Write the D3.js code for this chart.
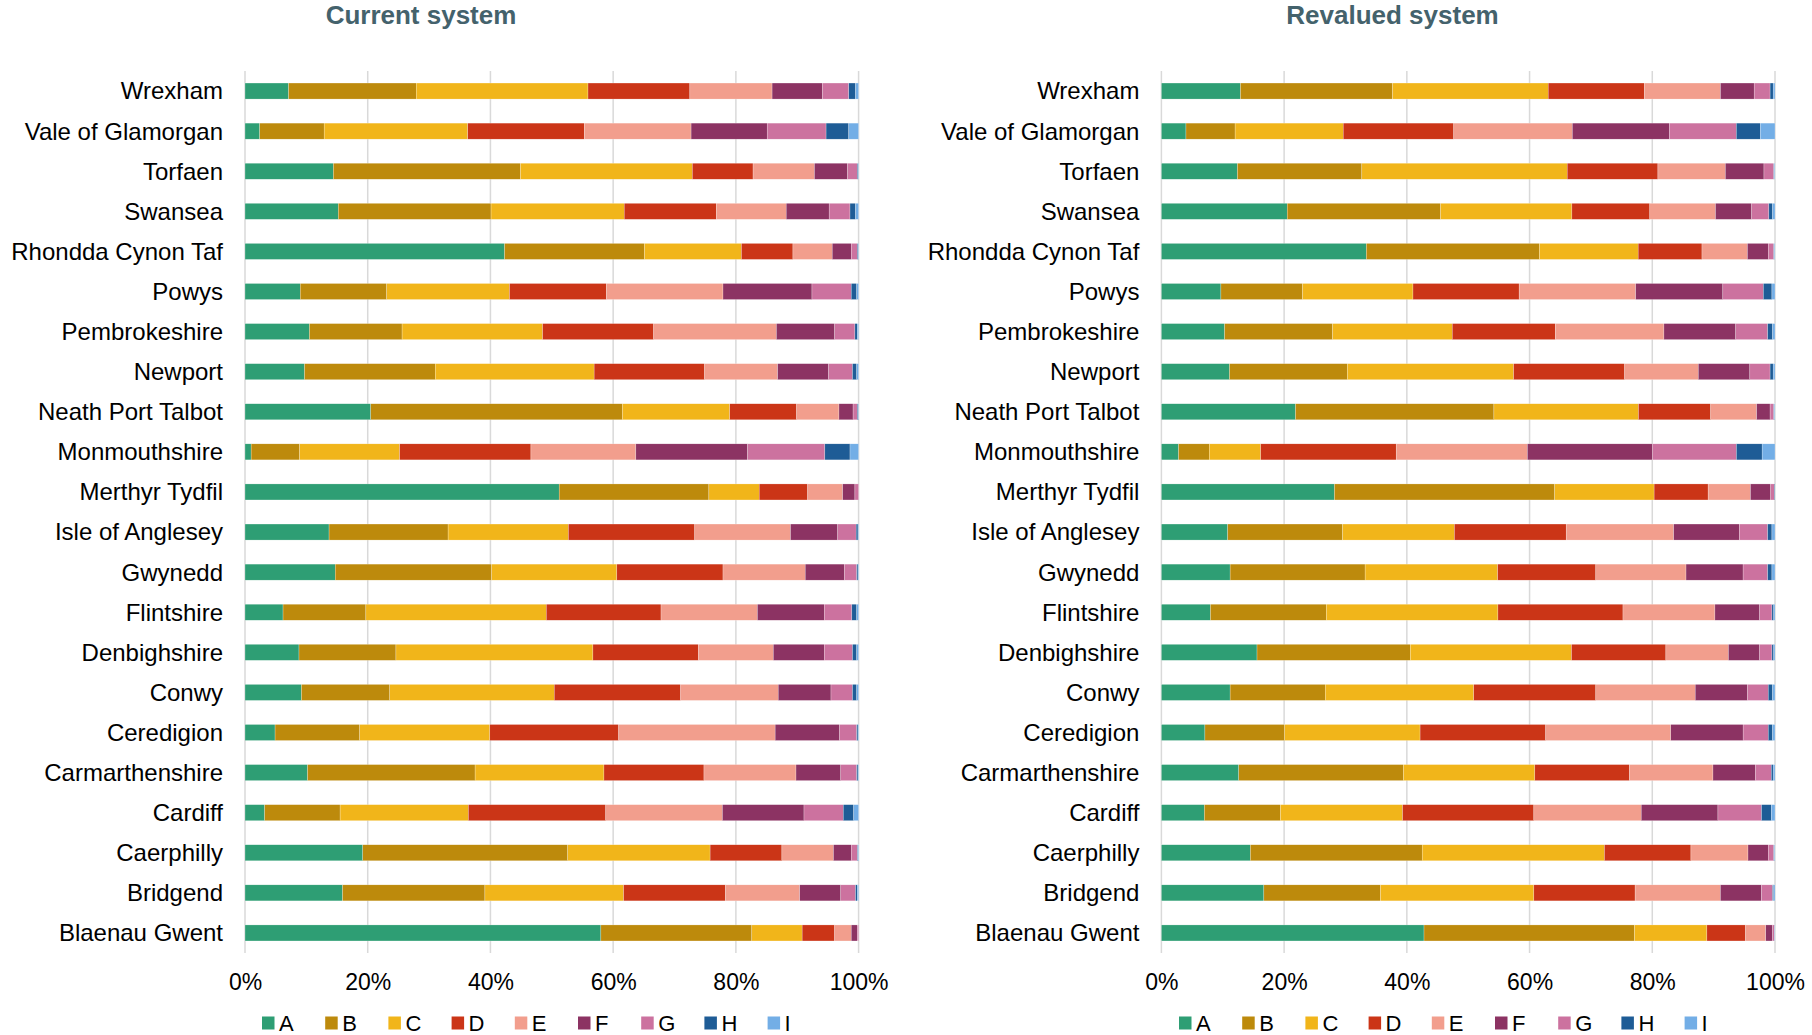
<!DOCTYPE html>
<meta charset="utf-8">
<head>
  <title>Council tax bands by council</title>
</head>

<style>
body {
  margin: 0;
  font-family: "Liberation Sans", Arial, sans-serif;
  background: #fff;
}
</style>

<body>
  <div id="content"></div>

  <script src="https://cdn.jsdelivr.net/npm/d3@7"></script>

  <script>
// Councils, top to bottom
var councils = ['Wrexham', 'Vale of Glamorgan', 'Torfaen', 'Swansea', 'Rhondda Cynon Taf',
  'Powys', 'Pembrokeshire', 'Newport', 'Neath Port Talbot', 'Monmouthshire', 'Merthyr Tydfil',
  'Isle of Anglesey', 'Gwynedd', 'Flintshire', 'Denbighshire', 'Conwy', 'Ceredigion',
  'Carmarthenshire', 'Cardiff', 'Caerphilly', 'Bridgend', 'Blaenau Gwent'];

var bands = ['A', 'B', 'C', 'D', 'E', 'F', 'G', 'H', 'I'];
var bandColours = ['#2e9e74', '#bd8a0c', '#f1b51a', '#cb3517', '#f29e8d', '#8c3363', '#cc729f', '#1e5c96', '#73aee6'];

var tickValues = [0, 0.2, 0.4, 0.6, 0.8, 1];

// share of dwellings per band (%), one row per council, bands A..I
var currentShares = [
  [7.1, 20.8, 28.0, 16.6, 13.4, 8.2, 4.3, 1.1, 0.5],
  [2.4, 10.5, 23.4, 19.0, 17.4, 12.4, 9.6, 3.7, 1.6],
  [14.4, 30.5, 28.0, 9.9, 10.0, 5.4, 1.6, 0.15, 0.05],
  [15.2, 24.9, 21.7, 15.0, 11.4, 7.0, 3.4, 0.9, 0.5],
  [42.3, 22.8, 15.8, 8.4, 6.4, 3.1, 1.0, 0.15, 0.05],
  [9.0, 14.1, 20.0, 15.8, 19.0, 14.5, 6.4, 0.9, 0.3],
  [10.5, 15.1, 22.9, 18.1, 20.0, 9.5, 3.3, 0.4, 0.2],
  [9.7, 21.3, 25.9, 18.0, 11.9, 8.3, 3.9, 0.7, 0.3],
  [20.5, 41.0, 17.5, 10.9, 6.9, 2.3, 0.7, 0.15, 0.05],
  [1.0, 7.9, 16.3, 21.4, 17.1, 18.2, 12.6, 4.1, 1.4],
  [51.2, 24.4, 8.2, 7.9, 5.7, 2.0, 0.6, 0, 0],
  [13.7, 19.4, 19.6, 20.6, 15.6, 7.7, 3.0, 0.3, 0.1],
  [14.7, 25.5, 20.4, 17.3, 13.4, 6.4, 2.0, 0.2, 0.1],
  [6.2, 13.5, 29.4, 18.7, 15.7, 10.9, 4.5, 0.8, 0.3],
  [8.8, 15.8, 32.1, 17.2, 12.2, 8.3, 4.6, 0.7, 0.3],
  [9.2, 14.4, 26.8, 20.6, 15.9, 8.6, 3.5, 0.7, 0.3],
  [4.9, 13.8, 21.2, 21.0, 25.5, 10.5, 2.8, 0.2, 0.1],
  [10.2, 27.3, 21.0, 16.3, 15.0, 7.3, 2.6, 0.2, 0.1],
  [3.2, 12.3, 20.9, 22.4, 19.0, 13.3, 6.4, 1.7, 0.8],
  [19.2, 33.4, 23.2, 11.7, 8.4, 2.9, 1.0, 0.1, 0.1],
  [15.9, 23.2, 22.6, 16.6, 12.1, 6.7, 2.4, 0.3, 0.2],
  [58.0, 24.6, 8.2, 5.3, 2.7, 1.0, 0.2, 0, 0]
];

var revaluedShares = [
  [12.9, 24.8, 25.4, 15.7, 12.4, 5.5, 2.6, 0.5, 0.3],
  [4.0, 8.0, 17.6, 18.0, 19.3, 15.8, 10.9, 3.9, 2.4],
  [12.4, 20.3, 33.5, 14.8, 11.0, 6.3, 1.6, 0.1, 0.1],
  [20.5, 25.0, 21.4, 12.7, 10.7, 5.9, 2.8, 0.6, 0.4],
  [33.4, 28.2, 16.1, 10.4, 7.4, 3.4, 0.9, 0.1, 0.1],
  [9.7, 13.3, 18.0, 17.3, 19.0, 14.2, 6.6, 1.4, 0.5],
  [10.3, 17.6, 19.5, 16.8, 17.7, 11.7, 5.2, 0.8, 0.4],
  [11.1, 19.2, 27.1, 18.1, 12.0, 8.4, 3.3, 0.5, 0.3],
  [21.9, 32.4, 23.6, 11.8, 7.5, 2.2, 0.6, 0.1, 0.1],
  [2.8, 5.0, 8.4, 22.1, 21.4, 20.4, 13.7, 4.2, 2.1],
  [28.2, 35.9, 16.2, 8.8, 6.9, 3.3, 0.6, 0.1, 0],
  [10.8, 18.7, 18.2, 18.2, 17.5, 10.7, 4.6, 0.7, 0.5],
  [11.2, 22.0, 21.6, 16.0, 14.7, 9.3, 4.0, 0.7, 0.5],
  [8.0, 18.9, 28.0, 20.4, 15.0, 7.3, 2.0, 0.3, 0.2],
  [15.6, 25.0, 26.3, 15.4, 10.2, 5.1, 2.0, 0.3, 0.2],
  [11.2, 15.5, 24.2, 19.9, 16.2, 8.5, 3.4, 0.7, 0.4],
  [7.1, 13.0, 22.1, 20.5, 20.4, 11.8, 4.1, 0.7, 0.4],
  [12.6, 26.8, 21.4, 15.4, 13.6, 6.9, 2.6, 0.3, 0.3],
  [7.0, 12.4, 19.9, 21.4, 17.5, 12.5, 7.1, 1.6, 0.6],
  [14.5, 28.0, 29.7, 14.1, 9.3, 3.3, 0.9, 0.1, 0.1],
  [16.7, 19.0, 25.0, 16.5, 13.9, 6.7, 1.8, 0.2, 0.2],
  [42.8, 34.3, 11.8, 6.3, 3.3, 1.1, 0.3, 0.05, 0.05]
];

var width = 1812, height = 1035;

var svg = d3.select('#content').append('svg')
  .attr('width', width)
  .attr('height', height)
  .style('display', 'block');

var colour = d3.scaleOrdinal().domain(bands).range(bandColours);

var y = d3.scaleBand()
  .domain(councils)
  .range([71, 953])
  .paddingInner(0.6)
  .paddingOuter(0.3);

function drawPanel(title, shares, x0, x1, titleX, legendX) {
  var rows = councils.map(function(c, i) {
    var r = {council: c};
    bands.forEach(function(b, j) { r[b] = shares[i][j]; });
    return r;
  });

  var series = d3.stack().keys(bands).offset(d3.stackOffsetExpand)(rows);

  var x = d3.scaleLinear().domain([0, 1]).range([x0, x1]);

  var g = svg.append('g');

  // title
  g.append('text')
    .attr('x', titleX)
    .attr('y', 24)
    .attr('text-anchor', 'middle')
    .style('font-size', '26px')
    .style('font-weight', 'bold')
    .style('fill', '#44626c')
    .text(title);

  // gridlines
  g.append('g')
    .selectAll('line')
    .data(tickValues)
    .join('line')
    .attr('x1', function(d) { return x(d); })
    .attr('x2', function(d) { return x(d); })
    .attr('y1', 71)
    .attr('y2', 953)
    .attr('stroke', '#d9d9d9')
    .attr('stroke-width', 1.5);

  // bars
  g.append('g')
    .selectAll('g')
    .data(series)
    .join('g')
    .attr('fill', function(d) { return colour(d.key); })
    .selectAll('rect')
    .data(function(d) { return d; })
    .join('rect')
    .attr('x', function(d) { return x(d[0]); })
    .attr('y', function(d) { return y(d.data.council); })
    .attr('width', function(d) { return Math.max(0, x(d[1]) - x(d[0])); })
    .attr('height', y.bandwidth())
    .attr('stroke', '#fff')
    .attr('stroke-width', 0.4)
    .attr('stroke-opacity', 0.6);

  // category labels
  g.append('g')
    .selectAll('text')
    .data(councils)
    .join('text')
    .attr('x', x0 - 22)
    .attr('y', function(d) { return y(d) + y.bandwidth() / 2; })
    .attr('dy', '0.35em')
    .attr('text-anchor', 'end')
    .style('font-size', '24px')
    .style('fill', '#000')
    .text(function(d) { return d; });

  // x axis
  var axis = g.append('g')
    .attr('transform', 'translate(0,974)')
    .call(d3.axisBottom(x).tickValues(tickValues).tickFormat(d3.format('.0%')).tickSize(0).tickPadding(0));
  axis.select('.domain').remove();
  axis.selectAll('text')
    .attr('dy', '0.71em')
    .style('font-family', '"Liberation Sans", Arial, sans-serif')
    .style('font-size', '23px')
    .style('fill', '#000');

  // legend
  var legend = g.append('g')
    .selectAll('g')
    .data(bands)
    .join('g')
    .attr('transform', function(d, i) { return 'translate(' + (legendX + i * 63.2) + ',1023)'; });

  legend.append('rect')
    .attr('x', 0)
    .attr('y', -6.5)
    .attr('width', 12.5)
    .attr('height', 13)
    .attr('fill', function(d) { return colour(d); });

  legend.append('text')
    .attr('x', 17)
    .attr('y', 0)
    .attr('dy', '0.36em')
    .style('font-size', '22px')
    .style('fill', '#000')
    .text(function(d) { return d; });
}

drawPanel('Current system', currentShares, 245, 858.6, 421, 262);
drawPanel('Revalued system', revaluedShares, 1161.4, 1775, 1392.5, 1179);
  </script>
</body>
</html>
